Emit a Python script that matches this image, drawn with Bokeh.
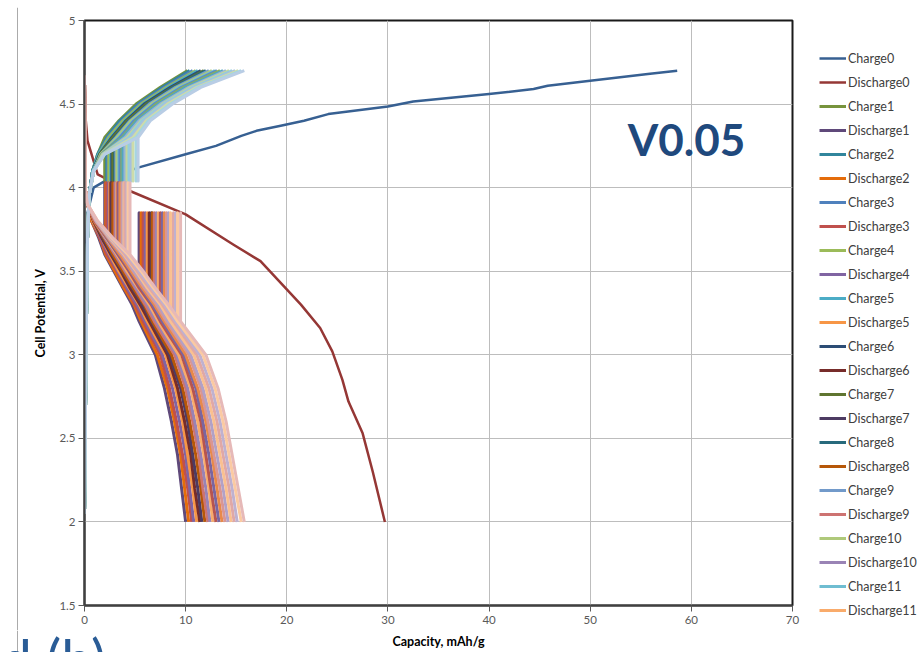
from bokeh.plotting import figure
from bokeh.layouts import row, column
from bokeh.models import (Range1d, FixedTicker, NumeralTickFormatter, Legend, LegendItem, Label, Span)
from bokeh.embed import file_html
from bokeh.resources import INLINE

# ---------------- data ----------------
X_TICKS = [0, 10, 20, 30, 40, 50, 60, 70]
Y_TICKS = [1.5, 2.0, 2.5, 3.0, 3.5, 4.0, 4.5, 5.0]

# cycle 0 (first, long) curves
CHARGE0_CAP = [0.0, 0.1, 0.3, 0.9, 2.6, 5.3, 10.0, 13.0, 15.5, 17.0, 19.4, 21.7, 24.1,
               30.0, 32.5, 40.0, 44.4, 45.8, 50.0, 55.7, 58.6]
CHARGE0_V = [2.05, 3.4, 3.85, 4.0, 4.06, 4.12, 4.20, 4.25, 4.31, 4.34, 4.37, 4.40, 4.44,
             4.485, 4.515, 4.56, 4.59, 4.61, 4.64, 4.68, 4.70]
DISCHARGE0_CAP = [0.0, 0.1, 0.3, 1.3, 4.5, 10.0, 14.7, 17.4, 19.4, 21.4, 23.3, 24.5,
                  25.5, 26.1, 27.5, 28.5, 29.7]
DISCHARGE0_V = [4.67, 4.42, 4.28, 4.08, 3.98, 3.84, 3.66, 3.56, 3.43, 3.30, 3.16, 3.02,
                2.85, 2.72, 2.53, 2.30, 2.00]

# cycles 1..21: charge, capacity at the listed potentials
CHARGE_V = [2.05, 3.0, 3.7, 3.95, 4.10, 4.20, 4.30, 4.04, 4.30, 4.40, 4.50, 4.60, 4.70]
CHARGE_START_CAP = [0.0, 0.15, 0.3, 0.45]
CH_CAP_410 = [0.8, 0.8, 0.8, 0.8, 0.8, 0.8, 0.9, 0.8, 0.9, 0.9, 0.8, 0.9, 0.9, 0.9, 0.9, 0.9, 0.9, 0.9, 0.9, 0.9, 0.9]
CH_CAP_420 = [1.3, 1.3, 1.4, 1.4, 1.4, 1.5, 1.5, 1.6, 1.6, 1.6, 1.7, 1.7, 1.7, 1.8, 1.8, 1.8, 1.9, 1.9, 1.9, 2.0, 2.0]
CH_CAP_REST = [2.0, 2.2, 2.3, 2.4, 2.6, 2.7, 2.8, 3.0, 3.1, 3.2, 3.4, 3.5, 3.7, 3.8, 4.0, 4.2, 4.4, 4.6, 4.8, 5.1, 5.3]
CH_CAP_440 = [3.4, 3.5, 3.7, 3.8, 4.0, 4.1, 4.2, 4.4, 4.5, 4.6, 4.8, 4.9, 5.1, 5.2, 5.4, 5.6, 5.7, 5.9, 6.1, 6.3, 6.5]
CH_CAP_450 = [5.1, 5.3, 5.4, 5.6, 5.8, 5.9, 6.1, 6.3, 6.4, 6.6, 6.8, 6.9, 7.1, 7.3, 7.5, 7.7, 7.8, 8.0, 8.2, 8.5, 8.7]
CH_CAP_460 = [7.5, 7.7, 7.9, 8.1, 8.3, 8.5, 8.7, 8.8, 9.0, 9.2, 9.4, 9.6, 9.8, 10.0, 10.3, 10.5, 10.7, 10.9, 11.1, 11.3, 11.5]
CH_CAP_470 = [10.2, 10.4, 10.7, 11.0, 11.2, 11.5, 11.8, 12.0, 12.3, 12.6, 12.9, 13.1, 13.4, 13.7, 14.0, 14.3, 14.6, 14.9, 15.2, 15.5, 15.8]

# cycles 1..21: discharge, capacity at the listed potentials
DISCHARGE_V = [4.67, 4.00, 3.90, 3.80, 3.70, 3.60, 4.03, 3.60, 3.50, 3.40, 3.30, 3.20, 3.85,
               3.20, 3.00, 2.80, 2.60, 2.40, 2.20, 2.00]
DISCHARGE_START_CAP = [0.0, 0.05, 0.3]
DC_CAP_380 = [0.7, 0.7, 0.8, 0.8, 0.8, 0.9, 0.9, 0.9, 1.0, 1.0, 1.0, 1.0, 1.1, 1.1, 1.1, 1.2, 1.2, 1.2, 1.2, 1.3, 1.3]
DC_CAP_370 = [1.4, 1.5, 1.5, 1.6, 1.7, 1.7, 1.8, 1.9, 2.0, 2.0, 2.1, 2.2, 2.2, 2.3, 2.4, 2.4, 2.5, 2.6, 2.6, 2.7, 2.8]
DC_CAP_REST1 = [2.0, 2.1, 2.2, 2.4, 2.5, 2.6, 2.7, 2.8, 3.0, 3.1, 3.2, 3.3, 3.4, 3.5, 3.7, 3.8, 3.9, 4.0, 4.2, 4.3, 4.5]
DC_CAP_350 = [2.9, 3.0, 3.2, 3.3, 3.4, 3.6, 3.7, 3.8, 4.0, 4.1, 4.2, 4.4, 4.5, 4.6, 4.8, 4.9, 5.1, 5.2, 5.4, 5.6, 5.8]
DC_CAP_340 = [3.8, 3.9, 4.1, 4.2, 4.4, 4.5, 4.7, 4.8, 5.0, 5.1, 5.3, 5.4, 5.6, 5.7, 5.9, 6.1, 6.2, 6.4, 6.6, 6.8, 7.0]
DC_CAP_330 = [4.7, 4.9, 5.0, 5.2, 5.4, 5.5, 5.7, 5.9, 6.0, 6.2, 6.4, 6.6, 6.7, 6.9, 7.1, 7.3, 7.5, 7.7, 7.9, 8.1, 8.3]
DC_CAP_REST2 = [5.4, 5.6, 5.8, 6.0, 6.2, 6.4, 6.6, 6.7, 6.9, 7.1, 7.3, 7.5, 7.7, 7.9, 8.1, 8.3, 8.5, 8.8, 9.0, 9.2, 9.5]
DC_CAP_300 = [7.0, 7.2, 7.5, 7.7, 8.0, 8.2, 8.4, 8.6, 8.9, 9.1, 9.3, 9.6, 9.8, 10.0, 10.3, 10.5, 10.8, 11.1, 11.4, 11.7, 12.0]
DC_CAP_280 = [7.9, 8.2, 8.4, 8.7, 9.0, 9.2, 9.5, 9.7, 10.0, 10.2, 10.5, 10.7, 11.0, 11.2, 11.5, 11.7, 12.0, 12.3, 12.6, 12.9, 13.2]
DC_CAP_260 = [8.6, 8.9, 9.1, 9.4, 9.7, 9.9, 10.2, 10.4, 10.7, 10.9, 11.2, 11.5, 11.7, 12.0, 12.2, 12.5, 12.8, 13.1, 13.4, 13.7, 14.0]
DC_CAP_240 = [9.2, 9.5, 9.7, 10.0, 10.2, 10.5, 10.7, 11.0, 11.3, 11.5, 11.8, 12.0, 12.3, 12.6, 12.8, 13.1, 13.4, 13.7, 14.0, 14.3, 14.6]
DC_CAP_220 = [9.6, 9.9, 10.2, 10.4, 10.7, 10.9, 11.2, 11.5, 11.7, 12.0, 12.3, 12.5, 12.8, 13.1, 13.4, 13.7, 14.0, 14.3, 14.6, 14.9, 15.2]
DC_CAP_200 = [10.0, 10.3, 10.6, 10.8, 11.1, 11.4, 11.6, 11.9, 12.2, 12.4, 12.7, 13.0, 13.3, 13.6, 13.9, 14.2, 14.5, 14.8, 15.1, 15.5, 15.8]

LEGEND_COUNT = 24

# series colours (Excel office-theme sequence, 6 per row)
PALETTE = [
    ["#376092", "#953735", "#77933C", "#5F497A", "#31859C", "#E46C0A"],
    ["#4F81BD", "#C0504D", "#9BBB59", "#8064A2", "#4BACC6", "#F79646"],
    ["#2C4D75", "#772C2A", "#5F7530", "#4D3B62", "#276A7C", "#B65708"],
    ["#729ACA", "#CD7371", "#AFC97A", "#9983B5", "#6FBDD1", "#F9AB6B"],
    ["#5B8AC5", "#B65450", "#8FAF55", "#7A65A0", "#52A5BF", "#E8894A"],
    ["#95B3D7", "#D99694", "#C3D69B", "#B2A1C7", "#93CDDD", "#FAC090"],
    ["#A7C0DE", "#E0A8A6", "#CDDCAA", "#BFB1D0", "#A5D5E2", "#FBCAA2"],
    ["#B9CDE5", "#E6B9B8", "#D7E4BD", "#CCC1DA", "#B7DEE8", "#FCD5B5"],
]

FONT = "Lato"
EDGE = "#ABABAB"
TOP_H, MID_H, BOT_H = 7, 623, 22     # 7 + 623 + 22 = 652
EDGE_W, P_W, LG_W = 18, 784, 118     # 18 + 784 + 118 = 920


def blank(width, height, left=0, top=0, xr=(0, 1), yr=(0, 1)):
    f = figure(width=width, height=height, output_backend="svg", toolbar_location=None,
               x_range=Range1d(*xr), y_range=Range1d(*yr),
               min_border_left=left, min_border_right=0, min_border_top=top, min_border_bottom=0)
    f.axis.visible = False
    f.grid.visible = False
    f.outline_line_color = None
    f.background_fill_color = "white"
    f.border_fill_color = "white"
    return f


# ---------------- main figure ----------------
p = figure(width=P_W, height=MID_H, output_backend="svg", toolbar_location=None,
           x_range=Range1d(0, 70), y_range=Range1d(1.5, 5),
           min_border_left=66, min_border_right=10, min_border_top=13, min_border_bottom=25)
p.background_fill_color = "white"
p.border_fill_color = "white"
p.outline_line_color = "#1a1a1a"
p.outline_line_width = 2

p.xaxis.ticker = FixedTicker(ticks=X_TICKS)
p.yaxis.ticker = FixedTicker(ticks=Y_TICKS)
p.yaxis.formatter = NumeralTickFormatter(format="0.[0]")
for ax in (p.xaxis[0], p.yaxis[0]):
    ax.axis_line_color = "#404040"
    ax.axis_line_width = 2
    ax.major_tick_line_color = "#595959"
    ax.major_tick_in = 0
    ax.major_tick_out = 6
    ax.minor_tick_line_color = None
    ax.major_label_text_font = FONT
    ax.major_label_text_font_size = "11.5px"
    ax.major_label_text_color = "#595959"
    ax.axis_label_text_font = FONT
    ax.axis_label_text_font_size = "12.5px"
    ax.axis_label_text_font_style = "bold"
    ax.axis_label_text_color = "#000000"
p.yaxis.axis_label = "Cell Potential, V"
p.xaxis.major_label_standoff = 4
p.yaxis.major_label_standoff = 3
p.yaxis.axis_label_standoff = 8

p.grid.grid_line_color = "#BDBDBD"
p.grid.grid_line_width = 1

# ---------------- curves ----------------
def colour(series_index):
    return PALETTE[(series_index // 6) % len(PALETTE)][series_index % 6]

names = []
widths = []
p.line(CHARGE0_CAP, CHARGE0_V, line_color=colour(0), line_width=2.5, line_join="round")
names.append("Charge0"); widths.append(2.5)
p.line(DISCHARGE0_CAP, DISCHARGE0_V, line_color=colour(1), line_width=2.5, line_join="round")
names.append("Discharge0"); widths.append(2.5)

n_cycles = len(CH_CAP_470)
for j in range(n_cycles):
    k = j + 1
    cx = CHARGE_START_CAP + [CH_CAP_410[j], CH_CAP_420[j], CH_CAP_REST[j], CH_CAP_REST[j],
                             CH_CAP_REST[j], CH_CAP_440[j], CH_CAP_450[j], CH_CAP_460[j], CH_CAP_470[j]]
    p.line(cx, CHARGE_V, line_color=colour(2 * k), line_width=3, line_join="round")
    names.append(f"Charge{k}"); widths.append(3)
    dx = DISCHARGE_START_CAP + [DC_CAP_380[j], DC_CAP_370[j], DC_CAP_REST1[j], DC_CAP_REST1[j],
                                DC_CAP_REST1[j], DC_CAP_350[j], DC_CAP_340[j], DC_CAP_330[j],
                                DC_CAP_REST2[j], DC_CAP_REST2[j], DC_CAP_REST2[j], DC_CAP_300[j],
                                DC_CAP_280[j], DC_CAP_260[j], DC_CAP_240[j], DC_CAP_220[j], DC_CAP_200[j]]
    p.line(dx, DISCHARGE_V, line_color=colour(2 * k + 1), line_width=3, line_join="round")
    names.append(f"Discharge{k}"); widths.append(3)

p.add_layout(Label(x=53.7, y=4.29, text="V0.05", text_font=FONT, text_font_style="bold",
                   text_font_size="44px", text_color="#1F497D", text_baseline="middle"))

# ---------------- chart-area edges ----------------
top_edge = blank(920, TOP_H, left=16, top=5, xr=(0, 904), yr=(0, 1))
top_edge.add_layout(Span(location=0.5, dimension="width", line_color=EDGE, line_width=1))
top_edge.add_layout(Span(location=1, dimension="height", line_color=EDGE, line_width=1))

left_edge = blank(EDGE_W, MID_H, left=16, xr=(0, 2))
left_edge.add_layout(Span(location=1, dimension="height", line_color=EDGE, line_width=1))

# ---------------- legend panel ----------------
lg = blank(LG_W, MID_H)
keys = []
for i in range(LEGEND_COUNT):
    kr = lg.line([float("nan")], [float("nan")], line_color=colour(i), line_width=widths[i])
    keys.append(LegendItem(label=names[i], renderers=[kr]))
legend = Legend(items=keys, location=(17, 10), margin=0, padding=0, spacing=4,
                glyph_width=27, glyph_height=20, label_height=20, label_standoff=2,
                label_text_font=FONT, label_text_font_size="12.5px", label_text_color="#404040",
                border_line_color=None, background_fill_alpha=0)
lg.add_layout(legend, "center")

# ---------------- bottom strip: x-axis title and slide caption ----------------
strip = blank(920, BOT_H, xr=(0, 920), yr=(BOT_H, 0))
strip.add_layout(Span(location=17, dimension="height", line_color=EDGE, line_width=1))
strip.add_layout(Label(x=438, y=11, text="Capacity, mAh/g", text_font=FONT,
                       text_font_size="12.5px", text_font_style="bold", text_color="#000000",
                       text_align="center", text_baseline="middle"))
strip.add_layout(Label(x=0, y=28, text="d (b)", text_font=FONT, text_font_size="56px",
                       text_color="#2A5C96", text_baseline="alphabetic"))

layout = column(row(top_edge),
                row(column(left_edge), p, column(lg), spacing=0),
                row(strip), spacing=0)
open("out.html", "w").write(file_html(layout, INLINE))
